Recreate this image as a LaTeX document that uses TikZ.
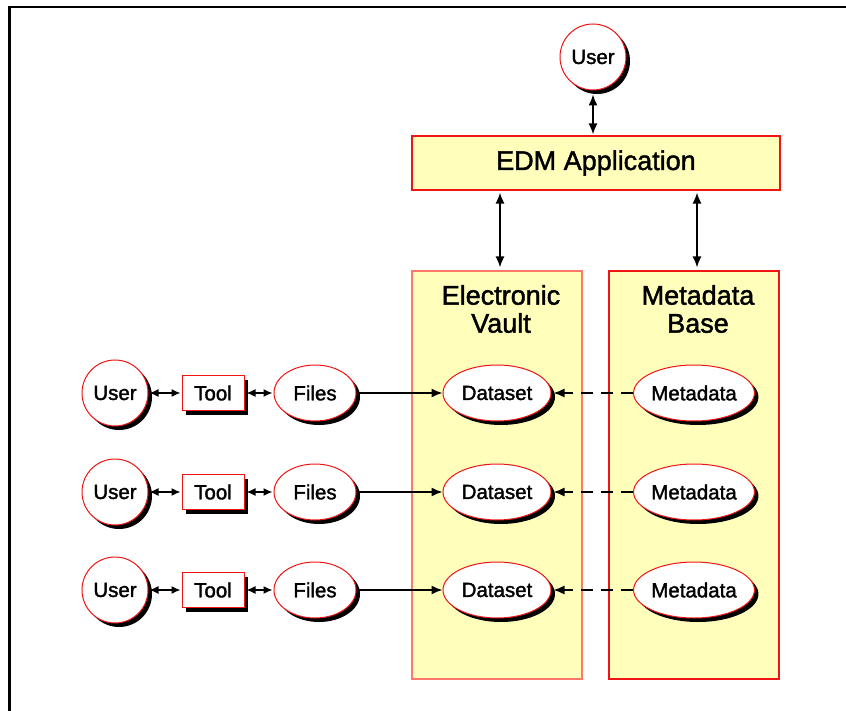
\documentclass[tikz,border=0pt]{standalone}
\usepackage{fontspec}
\setmainfont{Liberation Sans}
\newfontfamily\heavyfont{Liberation Sans}[FakeBold=1.6]
\usepackage{tikz}
\usetikzlibrary{shapes.geometric, positioning, arrows.meta, shadows}
\definecolor{padyellow}{RGB}{255,255,187}
\definecolor{salmonline}{RGB}{255,120,105}
\definecolor{redline}{RGB}{240,20,20}
\tikzset{
  shade4/.style={drop shadow={shadow xshift=4pt, shadow yshift=-4pt, fill=black, opacity=1}},
  actor/.style={circle, minimum size=66pt, inner sep=0pt, line width=1pt, draw=redline, fill=white, shade4, font=\heavyfont\fontsize{20.5}{24}\selectfont},
  toolbox/.style={rectangle, minimum width=62pt, minimum height=35pt, inner sep=0pt, line width=1pt, draw=redline, fill=white, shade4, font=\heavyfont\fontsize{20.5}{24}\selectfont},
  blob/.style={ellipse, minimum width=#1, minimum height=56pt, inner sep=0pt, line width=1pt, draw=redline, fill=white, shade4, font=\heavyfont\fontsize{20.5}{24}\selectfont},
  store/.style={rectangle, minimum width=170pt, minimum height=408pt, line width=1.2pt, draw=#1, fill=padyellow},
  title/.style={align=center, font=\heavyfont\fontsize{27}{28}\selectfont},
  dbl/.style={line width=1.4pt, {Latex[length=11pt,width=9pt]}-{Latex[length=11pt,width=9pt]}},
  dblsmall/.style={line width=1.4pt, {Latex[length=9pt,width=8pt]}-{Latex[length=9pt,width=8pt]}},
  arrow/.style={line width=1.4pt, -{Latex[length=11pt,width=9pt]}},
  dasharrow/.style={line width=1.4pt, dash pattern=on 12pt off 8pt, -{Latex[length=11pt,width=9pt]}}
}
\begin{document}
\begin{tikzpicture}[x=1pt, y=-1pt]
  \useasboundingbox (0,0) rectangle (846,711);
  % frame
  \draw[line width=2.2pt] (9.5,711) -- (9.5,7) -- (846,7);

  % top part
  \node (user0) [actor] at (593,57) {User};
  \node (edm) [rectangle, minimum width=368pt, minimum height=54pt, line width=1.2pt, draw=redline, fill=padyellow, font=\heavyfont\fontsize{27}{30}\selectfont] at (596,163) {\raisebox{-3pt}{EDM Application}};

  % the two stores
  \node (vault) [store=salmonline] at (497,475) {};
  \node (metabase) [store=redline] at (694,475) {};
  \node (vaulttitle) [title] at (501,309) {Electronic\\Vault};
  \node (metatitle) [title] at (698,309) {Metadata\\Base};

  % row 1
  \node (user1) [actor] at (115,393) {User};
  \node (tool1) [toolbox, right=33pt of user1] {Tool};
  \node (files1) [blob=82pt, right=29pt of tool1] {Files};
  \node (data1) [blob=108pt] at (vault.center |- user1) {Dataset};
  \node (meta1) [blob=106pt] at (metabase.center |- user1) {Metadata};

  % row 2
  \node (user2) [actor] at (115,492) {User};
  \node (tool2) [toolbox, right=33pt of user2] {Tool};
  \node (files2) [blob=82pt, right=29pt of tool2] {Files};
  \node (data2) [blob=108pt] at (vault.center |- user2) {Dataset};
  \node (meta2) [blob=106pt] at (metabase.center |- user2) {Metadata};

  % row 3
  \node (user3) [actor] at (115,590) {User};
  \node (tool3) [toolbox, right=33pt of user3] {Tool};
  \node (files3) [blob=82pt, right=29pt of tool3] {Files};
  \node (data3) [blob=108pt] at (vault.center |- user3) {Dataset};
  \node (meta3) [blob=106pt] at (metabase.center |- user3) {Metadata};

  % arrows at the top
  \draw [dbl, shorten <=4pt, shorten >=1pt] (user0) -- (user0 |- edm.north);
  \draw [dbl, shorten <=2pt, shorten >=3pt] ([xshift=3pt]edm.south -| vault.north) -- ([xshift=3pt]vault.north);
  \draw [dbl, shorten <=2pt, shorten >=3pt] ([xshift=3pt]edm.south -| metabase.north) -- ([xshift=3pt]metabase.north);

  % arrows in the rows
  \draw [dblsmall, shorten <=1pt, shorten >=1pt] (user1) -- (tool1);
  \draw [dblsmall, shorten <=2pt, shorten >=1pt] (tool1) -- (files1);
  \draw [arrow] (files1) -- (data1);
  \draw [dasharrow, shorten >=2pt] (meta1) -- (data1);

  \draw [dblsmall, shorten <=1pt, shorten >=1pt] (user2) -- (tool2);
  \draw [dblsmall, shorten <=2pt, shorten >=1pt] (tool2) -- (files2);
  \draw [arrow] (files2) -- (data2);
  \draw [dasharrow, shorten >=2pt] (meta2) -- (data2);

  \draw [dblsmall, shorten <=1pt, shorten >=1pt] (user3) -- (tool3);
  \draw [dblsmall, shorten <=2pt, shorten >=1pt] (tool3) -- (files3);
  \draw [arrow] (files3) -- (data3);
  \draw [dasharrow, shorten >=2pt] (meta3) -- (data3);
\end{tikzpicture}
\end{document}
